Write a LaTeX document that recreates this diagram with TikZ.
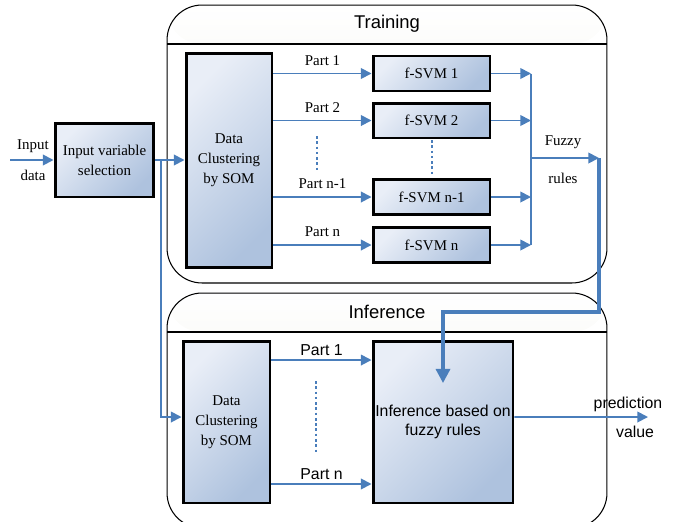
\documentclass[tikz,border=0pt]{standalone}
\usepackage{fontspec}
\setmainfont{Liberation Serif}
\setsansfont{Liberation Sans}
\usepackage{xcolor}
\usepackage{tikz}
\usetikzlibrary{positioning,arrows.meta}

\definecolor{linkblue}{HTML}{4A7EBB}
\definecolor{boxlight}{HTML}{E9EEF7}
\definecolor{boxdark}{HTML}{AEC2DE}
\definecolor{headgray}{HTML}{EAEADF}

\begin{document}
\begin{tikzpicture}[
    x=0.02cm, y=-0.02cm,
    >={Triangle[length=6pt,width=6pt]},
    block/.style={rectangle, draw, line width=1.7pt, inner sep=0pt, align=center,
        top color=boxlight, bottom color=boxdark, shading angle=45,
        font=\fontsize{8.5}{11.3}\selectfont},
    svm/.style={block, minimum width=2.34cm, minimum height=0.7cm},
    panel/.style={rectangle, draw, line width=0.6pt, inner sep=0pt, rounded corners=0.7cm,
        minimum width=8.8cm,
        path picture={
            \shade[top color=white, bottom color=headgray]
                (path picture bounding box.north west) rectangle ([yshift=-0.78cm]path picture bounding box.north east);
            \draw[line width=0.6pt] ([yshift=-0.78cm]path picture bounding box.north west)
                -- ([yshift=-0.78cm]path picture bounding box.north east);
        }},
    title/.style={font=\sffamily\fontsize{10.5}{12}\selectfont},
    txt/.style={inner sep=1pt, text=black, font=\fontsize{8.5}{11}\selectfont},
    stxt/.style={inner sep=1pt, text=black, font=\sffamily\fontsize{9}{11}\selectfont},
    link/.style={->, linkblue, line width=1pt},
    dots/.style={linkblue, line width=0.8pt, dash pattern=on 1.5pt off 1.5pt}
]
\path[use as bounding box, clip] (0,0) rectangle (675,521);

% Panels
\node[panel, minimum height=5.56cm] (train) at (387,144) {};
\node[title] (trainTitle) at (387,24) {Training};
\node[panel, minimum height=4.7cm] (infer) at (387,410.5) {};
\node[title] (inferTitle) at (387,312) {Inference};

% Nodes
\node[block, minimum width=1.98cm, minimum height=1.48cm] (sel) at (104.5,160) {Input variable\\selection};
\node[block, minimum width=1.72cm, minimum height=4.3cm] (som) at (229,160.5) {Data\\Clustering\\by SOM};
\node[svm] (svm1) at (431.5,73.5) {f-SVM 1};
\node[svm] (svm2) at (431.5,120.5) {f-SVM 2};
\node[svm] (svmn1) at (431.5,197) {f-SVM n-1};
\node[svm] (svmn) at (431.5,245) {f-SVM n};
\node[block, minimum width=1.74cm, minimum height=3.24cm] (som2) at (226.5,422) {Data\\Clustering\\by SOM};
\node[block, minimum width=2.8cm, minimum height=3.24cm, font=\sffamily\fontsize{9}{11}\selectfont] (rules) at (443,422) {Inference based on\\fuzzy rules};

% Free labels
\node[txt] (inLbl) at (33,146) {Input};
\node[txt] (dataLbl) at (33,175) {data};
\node[txt] (fuzzyLbl) at (563,142) {Fuzzy};
\node[txt] (rulesLbl) at (563,178) {rules};
\node[stxt] (predLbl) at (628,404) {prediction};
\node[stxt] (valLbl) at (635,432) {value};

\coordinate (start) at (10,160);
\coordinate (split) at (161,160);
\coordinate (bus) at (531,0);
\coordinate (fz) at (599,158);
\coordinate (bend) at (443,312);
\coordinate (drop) at (443,383);
\coordinate (out) at (648,417);

% Input side
\draw[link] (start) -- (sel.west);
\draw[link] (sel.east) -- (sel.east -| som.west);
\draw[link] (split) |- ([yshift=0.1cm]som2.west);

% Training arrows
\draw[link] (som.east |- svm1) -- node[txt, above=3pt]{Part 1} (svm1.west);
\draw[link] (som.east |- svm2) -- node[txt, above=3pt]{Part 2} (svm2.west);
\draw[link] (som.east |- svmn1) -- node[txt, above=3pt]{Part n-1} (svmn1.west);
\draw[link] (som.east |- svmn) -- node[txt, above=3pt]{Part n} (svmn.west);
\draw[dots] (317,136) -- (317,170);
\draw[dots] (432,140) -- (432,175);

\draw[link] (svm1.east) -- (svm1.east -| bus);
\draw[link] (svm2.east) -- (svm2.east -| bus);
\draw[link] (svmn1.east) -- (svmn1.east -| bus);
\draw[link] (svmn.east) -- (svmn.east -| bus);
\draw[linkblue, line width=1pt] (bus |- svm1) -- (bus |- svmn);
\draw[link] (bus |- fz) -- (fz);

% Fuzzy rules into inference
\draw[linkblue, line width=1.8pt, -{Triangle[length=8pt,width=8pt]}] (fz) |- (bend) -- (drop);

% Inference arrows
\draw[link] ([yshift=1.24cm]som2.east) -- node[stxt, above=1pt]{Part 1} ([yshift=1.24cm]rules.west);
\draw[link] ([yshift=-1.24cm]som2.east) -- node[stxt, above=1pt]{Part n} ([yshift=-1.24cm]rules.west);
\draw[dots] (316,381) -- (316,452);
\draw[link] ([yshift=0.1cm]rules.east) -- (out);

\end{tikzpicture}
\end{document}
